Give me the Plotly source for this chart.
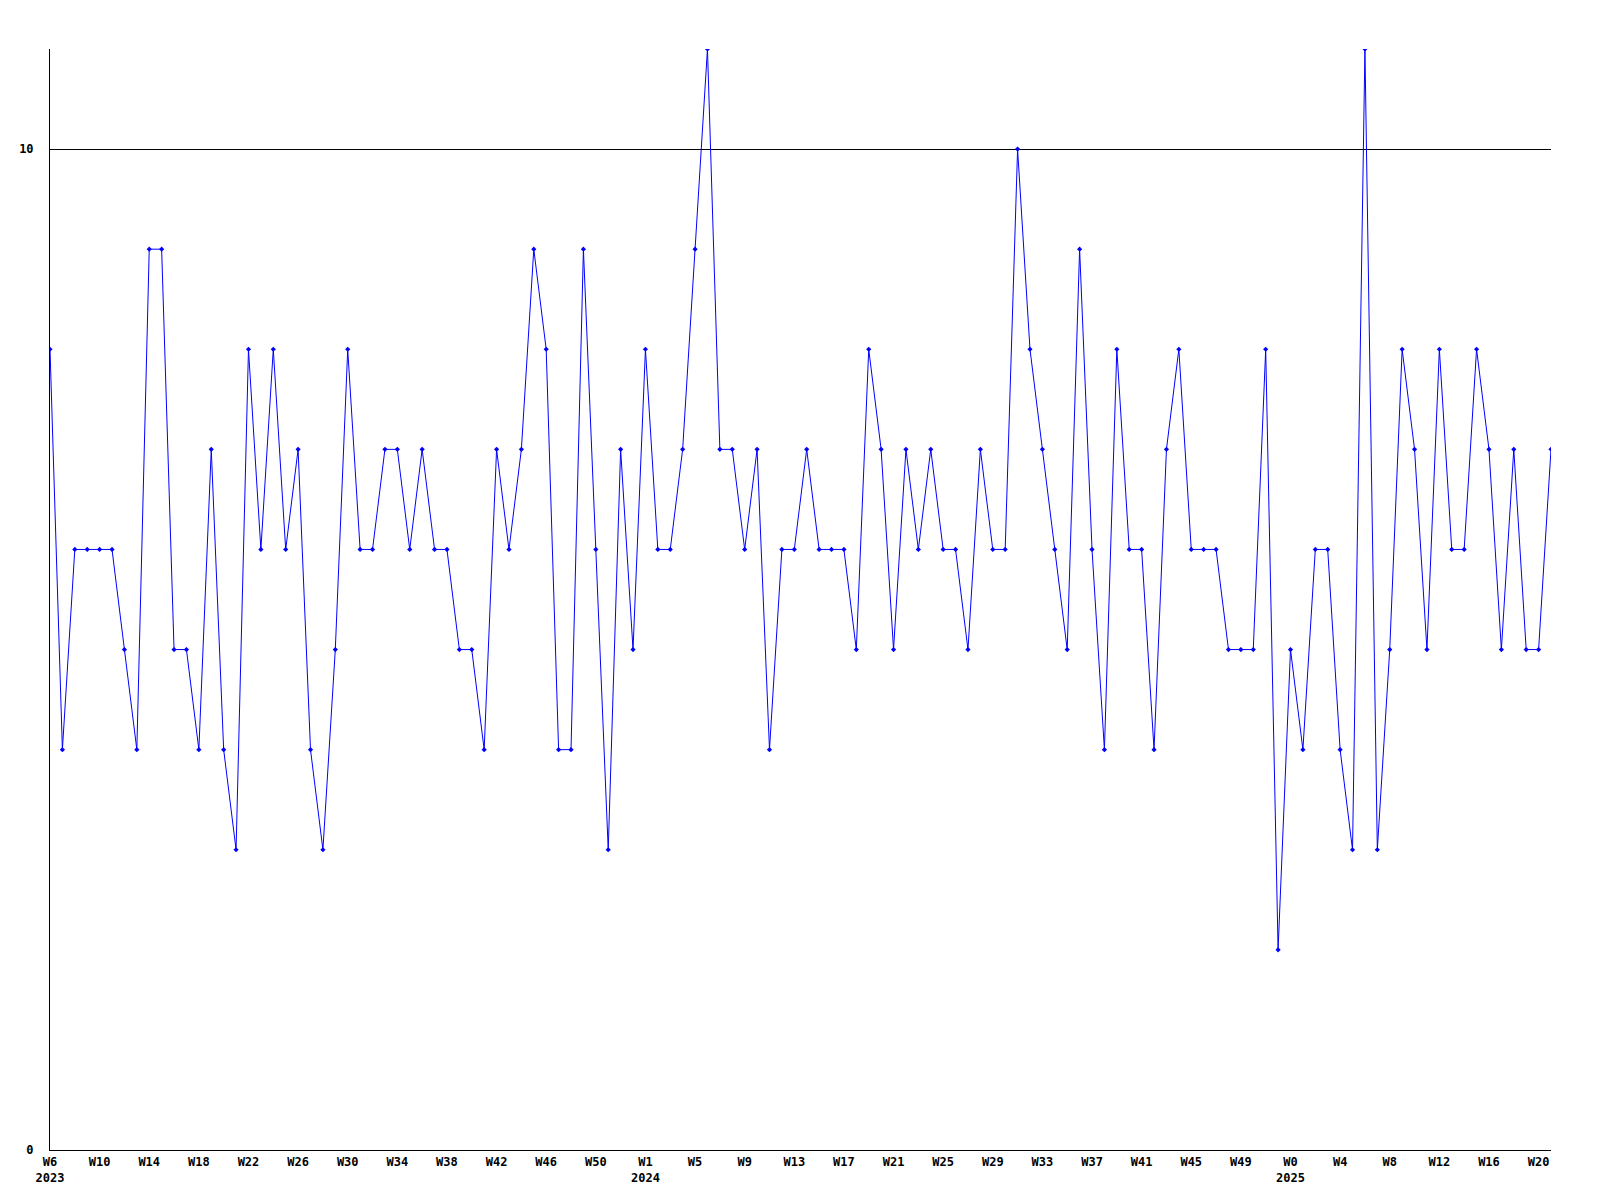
import plotly.graph_objects as go

# Weekly values (one per week, W6 2023 .. W21 2025)
values = [
    8, 4, 6, 6, 6, 6, 5, 4, 9, 9,
    5, 5, 4, 7, 4, 3, 8, 6, 8, 6,
    7, 4, 3, 5, 8, 6, 6, 7, 7, 6,
    7, 6, 6, 5, 5, 4, 7, 6, 7, 9,
    8, 4, 4, 9, 6, 3, 7, 5, 8, 6,
    6, 7, 9, 11, 7, 7, 6, 7, 4, 6,
    6, 7, 6, 6, 6, 5, 8, 7, 5, 7,
    6, 7, 6, 6, 5, 7, 6, 6, 10, 8,
    7, 6, 5, 9, 6, 4, 8, 6, 6, 4,
    7, 8, 6, 6, 6, 5, 5, 5, 8, 2,
    5, 4, 6, 6, 4, 3, 11, 3, 5, 8,
    7, 5, 8, 6, 6, 8, 7, 5, 7, 5,
    5, 7,
]

# Tick labels shown every 4th week
tick_labels = [
    "W6<br>2023", "W10", "W14", "W18", "W22", "W26", "W30", "W34", "W38",
    "W42", "W46", "W50", "W1<br>2024", "W5", "W9", "W13", "W17", "W21",
    "W25", "W29", "W33", "W37", "W41", "W45", "W49", "W0<br>2025", "W4",
    "W8", "W12", "W16", "W20",
]
tick_step = 4

y_ticks = [0, 10]
y_max = 11

x = list(range(len(values)))
tickvals = list(range(0, len(values), tick_step))[:len(tick_labels)]

font = dict(family="DejaVu Sans Mono", size=12, color="black", weight="bold")

fig = go.Figure()
fig.add_trace(go.Scatter(
    x=x, y=values, mode="lines+markers",
    line=dict(color="#0000FF", width=1),
    marker=dict(color="#0000FF", size=4, symbol="diamond"),
    hoverinfo="x+y",
))

fig.update_layout(
    width=1600, height=1200,
    margin=dict(l=42, r=57, t=41, b=58),
    paper_bgcolor="white", plot_bgcolor="white",
    showlegend=False,
    font=font,
)
fig.update_xaxes(
    range=[0, len(values) - 1],
    tickvals=tickvals, ticktext=tick_labels,
    tickfont=font,
    showgrid=False, zeroline=False,
    showline=True, linecolor="black", linewidth=1,
    ticks="", ticklabelstandoff=1,
    automargin=False,
)
fig.update_yaxes(
    range=[0, y_max],
    tickvals=y_ticks, ticktext=[str(v) for v in y_ticks],
    tickfont=font,
    showgrid=True, gridcolor="black", gridwidth=1,
    zeroline=False,
    showline=True, linecolor="black", linewidth=1,
    ticks="", ticklabelstandoff=13,
    automargin=False,
)

fig.write_html("out.html")
